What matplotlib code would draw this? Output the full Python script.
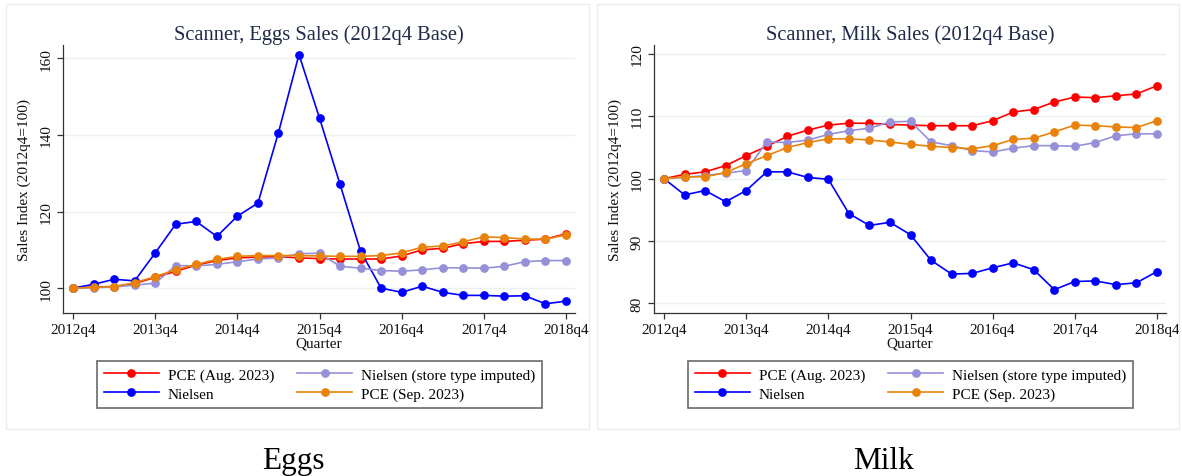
import matplotlib
matplotlib.use("Agg")
import matplotlib.pyplot as plt
from matplotlib.patches import Rectangle

plt.rcParams['font.family'] = ['Liberation Serif', 'DejaVu Serif']

quarters = ["2012q4", "2013q1", "2013q2", "2013q3", "2013q4", "2014q1", "2014q2",
            "2014q3", "2014q4", "2015q1", "2015q2", "2015q3", "2015q4", "2016q1",
            "2016q2", "2016q3", "2016q4", "2017q1", "2017q2", "2017q3", "2017q4",
            "2018q1", "2018q2", "2018q3", "2018q4"]
tick_labels = ["2012q4", "2013q4", "2014q4", "2015q4", "2016q4", "2017q4", "2018q4"]

# Eggs
eggs_pce_aug = [100, 100.3, 100.4, 101.2, 102.8, 104.4, 106.0, 107.2, 107.9, 108.1, 108.2,
                107.9, 107.7, 107.6, 107.6, 107.6, 108.4, 110.0, 110.4, 111.6, 112.2,
                112.2, 112.5, 112.8, 114.2]
eggs_nielsen = [100, 101.0, 102.3, 101.9, 109.2, 116.7, 117.4, 113.5, 118.8, 122.2, 140.6,
                161.0, 144.4, 127.1, 109.6, 100.0, 98.9, 100.5, 98.9, 98.1, 98.1,
                97.9, 98.0, 95.9, 96.6]
eggs_imputed = [100, 100.1, 100.3, 100.8, 101.3, 105.9, 105.8, 106.2, 106.9, 107.6, 107.9,
                109.0, 109.1, 105.7, 105.2, 104.6, 104.4, 104.8, 105.3, 105.3, 105.2,
                105.7, 106.9, 107.2, 107.2]
eggs_pce_sep = [100, 100.2, 100.4, 101.4, 103.0, 104.8, 106.2, 107.5, 108.3, 108.5, 108.5,
                108.5, 108.4, 108.3, 108.3, 108.5, 109.2, 110.7, 111.0, 112.1, 113.4,
                113.2, 112.8, 112.8, 113.9]

# Milk
milk_pce_aug = [100, 100.7, 101.1, 102.1, 103.7, 105.2, 106.8, 107.8, 108.6, 108.9, 108.9,
                108.7, 108.6, 108.5, 108.5, 108.5, 109.3, 110.7, 111.1, 112.3, 113.1,
                113.0, 113.3, 113.6, 114.9]
milk_nielsen = [100, 97.4, 98.1, 96.3, 98.1, 101.1, 101.1, 100.2, 99.9, 94.4, 92.5,
                93.0, 91.0, 86.9, 84.7, 84.8, 85.7, 86.5, 85.4, 82.2, 83.5,
                83.6, 83.0, 83.3, 85.1]
milk_imputed = [100, 100.2, 100.5, 100.9, 101.3, 105.9, 105.8, 106.2, 107.1, 107.7, 108.1,
                109.1, 109.2, 105.9, 105.3, 104.5, 104.3, 104.9, 105.3, 105.3, 105.2,
                105.8, 106.9, 107.2, 107.2]
milk_pce_sep = [100, 100.3, 100.3, 101.0, 102.4, 103.7, 105.0, 105.8, 106.4, 106.4, 106.2,
                105.9, 105.5, 105.2, 105.0, 104.8, 105.3, 106.3, 106.5, 107.5, 108.6,
                108.5, 108.3, 108.2, 109.3]

series_names = ["PCE (Aug. 2023)", "Nielsen", "Nielsen (store type imputed)", "PCE (Sep. 2023)"]
series_colors = ["#ff0000", "#0000ff", "#9590d8", "#e8820a"]

W, H = 1182, 477
fig = plt.figure(figsize=(W / 100, H / 100), dpi=100)
fig.patch.set_facecolor("white")


def px_axes(left, top, right, bottom):
    return fig.add_axes([left / W, 1 - bottom / H, (right - left) / W, (bottom - top) / H])


def panel(left_px, frame_l, frame_r, title, data, yticks, ylim, caption):
    # light outer frame of the panel
    fig.patches.append(Rectangle((frame_l / W, 1 - 430 / H), (frame_r - frame_l) / W, 425 / H,
                                 transform=fig.transFigure, fill=False,
                                 edgecolor="#e6eef1", lw=1.0))
    ax = px_axes(left_px, 46, left_px + 512, 314)
    x = list(range(len(quarters)))
    handles = []
    for vals, name, col in zip(data, series_names, series_colors):
        h, = ax.plot(x, vals, color=col, lw=1.2, marker="o", markersize=6.3,
                     markeredgewidth=0, label=name, zorder=3)
        handles.append(h)
    ax.set_xlim(-0.49, 24.44)
    ax.set_ylim(*ylim)
    ax.set_yticks(yticks)
    ax.set_yticklabels([str(v) for v in yticks], rotation=90, va="center")
    tick_pos = [quarters.index(t) for t in tick_labels]
    ax.set_xticks(tick_pos)
    ax.set_xticklabels(tick_labels)
    ax.grid(axis="y", color="#eaf1f3", lw=1.0, zorder=0)
    ax.set_axisbelow(True)
    for s in ("top", "right"):
        ax.spines[s].set_visible(False)
    for s in ("left", "bottom"):
        ax.spines[s].set_color("#333333")
        ax.spines[s].set_linewidth(0.9)
    ax.tick_params(direction="out", length=4.5, width=0.9, color="#333333",
                   labelsize=11, pad=3, labelcolor="#111111")
    ax.set_xlabel("Quarter", fontsize=11, labelpad=0, color="#111111")
    ax.set_ylabel("Sales Index (2012q4=100)", fontsize=11, labelpad=6, color="#111111")
    fig.text((left_px + 256) / W, 1 - 40 / H, title,
             fontsize=14.8, color="#1e2a48", ha="center", va="baseline")
    leg_cx = left_px + 256.5
    leg = fig.legend(handles=handles, loc="upper center",
                     bbox_to_anchor=(leg_cx / W, 1 - 362 / H), ncol=2,
                     fontsize=11, frameon=True, fancybox=False, handlelength=3.6,
                     handletextpad=0.6, columnspacing=1.5, borderpad=0.45,
                     labelspacing=0.35, borderaxespad=0)
    leg.get_frame().set_edgecolor("#444444")
    leg.get_frame().set_linewidth(1.2)
    fig.text((left_px + 230) / W, 1 - 469 / H, caption, fontsize=22.5,
             ha="center", va="baseline", color="black")
    return ax


panel(63, 6, 589, "Scanner, Eggs Sales (2012q4 Base)",
      [eggs_pce_aug, eggs_nielsen, eggs_imputed, eggs_pce_sep],
      [100, 120, 140, 160], (93.5, 163.5), "Eggs")
panel(654, 597, 1179, "Scanner, Milk Sales (2012q4 Base)",
      [milk_pce_aug, milk_nielsen, milk_imputed, milk_pce_sep],
      [80, 90, 100, 110, 120], (78.45, 121.45), "Milk")

fig.savefig("out.png", dpi=100, facecolor="white")
